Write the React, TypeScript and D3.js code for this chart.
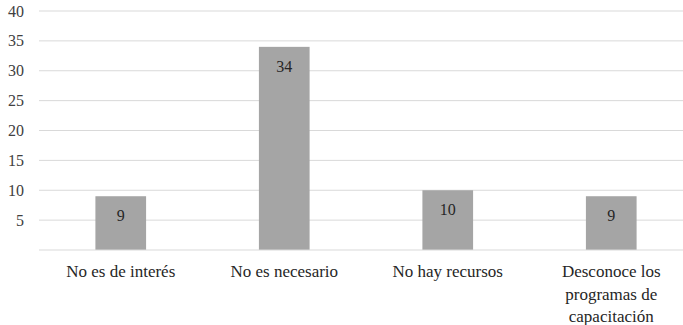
import React from "react";
import * as d3 from "d3";

const categories = [
  ["No es de interés"],
  ["No es necesario"],
  ["No hay recursos"],
  ["Desconoce los", "programas de", "capacitación"],
];
const values = [9, 34, 10, 9];
const yTicks = [5, 10, 15, 20, 25, 30, 35, 40];

const W = 683;
const H = 325;
const left = 39;
const top = 11;
const bottom = 250;
const font = '"Liberation Serif", "Times New Roman", serif';

export default function App() {
  const x = d3
    .scaleBand<number>()
    .domain(values.map((_, i) => i))
    .range([left, left + 4 * 163.5])
    .paddingInner(0.69)
    .paddingOuter(0.345);
  const y = d3.scaleLinear().domain([0, 40]).range([bottom, top]);

  return (
    <svg
      width={W}
      height={H}
      fontFamily={font}
      style={{ position: "absolute", left: 0, top: 0, fontFamily: font }}
    >
      <rect width={W} height={H} fill="#fff" />
      {yTicks.map((t) => (
        <g key={t}>
          <line x1={left} x2={W} y1={y(t)} y2={y(t)} stroke="#d9d9d9" strokeWidth={1} />
          <text
            x={24}
            y={y(t)}
            dy="0.35em"
            textAnchor="end"
            fontSize={16}
            fill="#404040"
            fontFamily={font}
          >
            {t}
          </text>
        </g>
      ))}
      {values.map((v, i) => (
        <g key={i}>
          <rect
            x={x(i)}
            y={y(v)}
            width={x.bandwidth()}
            height={y(0) - y(v)}
            fill="#a5a5a5"
          />
          <text
            x={(x(i) as number) + x.bandwidth() / 2}
            y={y(v) + 25}
            textAnchor="middle"
            fontSize={16}
            fill="#262626"
            fontFamily={font}
          >
            {v}
          </text>
        </g>
      ))}
      <line x1={left} x2={W} y1={y(0)} y2={y(0)} stroke="#d9d9d9" strokeWidth={1} />
      {categories.map((lines, i) => (
        <text
          key={i}
          x={(x(i) as number) + x.bandwidth() / 2}
          y={277}
          textAnchor="middle"
          fontSize={17}
          fill="#262626"
          fontFamily={font}
        >
          {lines.map((l, j) => (
            <tspan key={j} x={(x(i) as number) + x.bandwidth() / 2} dy={j === 0 ? 0 : 22.5}>
              {l}
            </tspan>
          ))}
        </text>
      ))}
    </svg>
  );
}
